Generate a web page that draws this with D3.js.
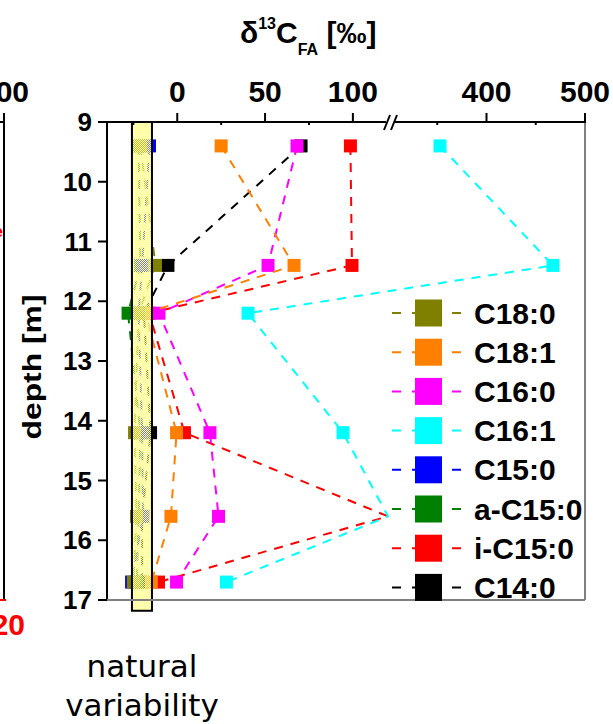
<!DOCTYPE html>
<html lang="en">
<head>
<meta charset="utf-8">
<script src="https://d3js.org/d3.v7.min.js"></script>
<style type="text/css">
body{
  margin: 0;
  padding: 0;
  background: white;
}
svg text{
  font-family: "Liberation Sans", Arial, sans-serif;
  font-weight: bold;
}
.note{
  font-family: "DejaVu Sans", sans-serif !important;
  font-weight: normal !important;
}
</style>
</head>
<body>
<div id="chart"></div>

<script type="text/javascript">

// sample depths [m]
var depths = [9.4, 11.4, 12.2, 14.2, 15.6, 16.7];

// legend order
var seriesNames  = ["C18:0", "C18:1", "C16:0", "C16:1", "C15:0", "a-C15:0", "i-C15:0", "C14:0"];
var seriesColors = ["#808000", "#ff8000", "#ff00ff", "#00ffff", "#0000ff", "#008000", "#ff0000", "#000000"];

// d13C values per depth (200 = off scale, inside the axis break)
var c18_0  = [-21, -12.4, -22, -24.3, -23.2, -25];
var c18_1  = [25, 66.5, -18, -0.4, -3.6, -14.7];
var c16_0  = [68.2, 51.7, -10.4, 18.6, 23.5, -0.4];
var c16_1  = [352.8, 467.5, 40.3, 94.4, 200, 28];
var c15_0  = [-15.8, -20, -22, -20, -19.5, -26];
var ac15_0 = [-22, -21, -28, -21, -22, -23];
var ic15_0 = [98.6, 99.5, -16, 4.1, 200, -10.7];
var c14_0  = [70.5, -5.3, -19, -15.2, -20, -20];

var seriesValues = [c18_0, c18_1, c16_0, c16_1, c15_0, ac15_0, ic15_0, c14_0];

// natural variability band
var natVar = [-25.8, -14.4];
var natVarDepth = [9, 17.18];

// axis ticks
var topTicks = [0, 50, 100, 400, 500];
var topMinor = [-25, 25, 75, 350, 450];
var depthTicks = [9, 10, 11, 12, 13, 14, 15, 16, 17];

var width = 613, height = 724;
var pLeft = 107, pRight = 585, pTop = 122, pBottom = 600;
var breakX = 388;

var svg = d3.select("#chart").append("svg")
  .attr("width", width)
  .attr("height", height);

// broken x axis: -40..120 | 300..500
var x = d3.scaleLinear()
  .domain([-40, 120, 300, 500])
  .range([pLeft, breakX, breakX, pRight]);

var y = d3.scaleLinear()
  .domain([9, 17])
  .range([pTop, pBottom]);

var inGap = function(v){ return v > 120 && v < 300; };

// light yellow mesh, the marks underneath show through
var defs = svg.append("defs");
var pat = defs.append("pattern")
  .attr("id", "mesh")
  .attr("width", 2).attr("height", 2)
  .attr("patternUnits", "userSpaceOnUse");
pat.append("rect").attr("width", 2).attr("height", 2).attr("fill", "#ffff90").attr("fill-opacity", 0.5);
pat.append("rect").attr("width", 1).attr("height", 1).attr("fill", "#ffff80");
pat.append("rect").attr("x", 1).attr("y", 1).attr("width", 1).attr("height", 1).attr("fill", "#ffffa0");

defs.append("clipPath").attr("id", "plotClip")
  .append("rect")
  .attr("x", pLeft).attr("y", pTop)
  .attr("width", pRight - pLeft).attr("height", pBottom - pTop);

// --- partial neighbour panel on the left edge
svg.append("line")
  .attr("x1", 4).attr("x2", 4).attr("y1", pTop - 9).attr("y2", pBottom)
  .attr("stroke", "black").attr("stroke-width", 2);
svg.append("line")
  .attr("x1", 0).attr("x2", 4).attr("y1", pTop).attr("y2", pTop)
  .attr("stroke", "black").attr("stroke-width", 2);
svg.append("line")
  .attr("x1", 0).attr("x2", 6).attr("y1", pBottom).attr("y2", pBottom)
  .attr("stroke", "red").attr("stroke-width", 2);
svg.append("text")
  .attr("x", 4).attr("y", 102)
  .attr("text-anchor", "middle")
  .style("font-size", "30px")
  .text("200");
svg.append("text")
  .attr("x", 25).attr("y", 635)
  .attr("text-anchor", "end")
  .attr("fill", "red")
  .style("font-size", "30px")
  .text("20");
svg.append("text")
  .attr("x", 3).attr("y", 237)
  .attr("text-anchor", "end")
  .attr("fill", "red")
  .style("font-size", "17px")
  .text("e");

// --- series (drawn in reverse legend order)
var line = d3.line()
  .x(function(d){ return x(d.v); })
  .y(function(d){ return y(d.depth); });

var plot = svg.append("g").attr("clip-path", "url(#plotClip)");

for (var s = seriesNames.length - 1; s >= 0; s--) {
  var pts = seriesValues[s].map(function(v, i){ return {v: v, depth: depths[i]}; });
  var g = plot.append("g");
  g.append("path")
    .datum(pts)
    .attr("d", line)
    .attr("fill", "none")
    .attr("stroke", seriesColors[s])
    .attr("stroke-width", 2)
    .attr("stroke-dasharray", "9,8");
  g.selectAll("rect")
    .data(pts.filter(function(d){ return !inGap(d.v); }))
    .enter()
    .append("rect")
    .attr("x", function(d){ return x(d.v) - 6.5; })
    .attr("y", function(d){ return y(d.depth) - 6.5; })
    .attr("width", 13).attr("height", 13)
    .attr("fill", seriesColors[s]);
}

// --- natural variability band
svg.append("rect")
  .attr("x", x(natVar[0]))
  .attr("y", y(natVarDepth[0]))
  .attr("width", x(natVar[1]) - x(natVar[0]))
  .attr("height", y(natVarDepth[1]) - y(natVarDepth[0]))
  .attr("fill", "url(#mesh)")
  .attr("stroke", "black")
  .attr("stroke-width", 2);

// --- frame
svg.append("line")
  .attr("x1", pLeft).attr("x2", pLeft).attr("y1", pTop).attr("y2", pBottom)
  .attr("stroke", "black").attr("stroke-width", 2);
svg.append("line")
  .attr("x1", pRight).attr("x2", pRight).attr("y1", pTop).attr("y2", pBottom)
  .attr("stroke", "#808080").attr("stroke-width", 2);
svg.append("line")
  .attr("x1", pLeft).attr("x2", pRight).attr("y1", pBottom).attr("y2", pBottom)
  .attr("stroke", "#808080").attr("stroke-width", 2);
svg.append("line")
  .attr("x1", pLeft - 1).attr("x2", breakX - 2).attr("y1", pTop).attr("y2", pTop)
  .attr("stroke", "black").attr("stroke-width", 2);
svg.append("line")
  .attr("x1", breakX + 7).attr("x2", pRight + 1).attr("y1", pTop).attr("y2", pTop)
  .attr("stroke", "black").attr("stroke-width", 2);
[breakX - 1, breakX + 6].forEach(function(bx){
  svg.append("line")
    .attr("x1", bx - 3).attr("y1", pTop + 8)
    .attr("x2", bx + 3).attr("y2", pTop - 7)
    .attr("stroke", "black").attr("stroke-width", 2);
});

// top ticks + labels
svg.selectAll(".tmaj")
  .data(topTicks).enter()
  .append("line")
  .attr("x1", function(d){ return x(d); }).attr("x2", function(d){ return x(d); })
  .attr("y1", pTop).attr("y2", pTop - 9)
  .attr("stroke", "black").attr("stroke-width", 2);
svg.selectAll(".tmin")
  .data(topMinor).enter()
  .append("line")
  .attr("x1", function(d){ return x(d); }).attr("x2", function(d){ return x(d); })
  .attr("y1", pTop).attr("y2", pTop + 3)
  .attr("stroke", "black").attr("stroke-width", 2);
svg.selectAll(".tlab")
  .data(topTicks).enter()
  .append("text")
  .attr("x", function(d){ return x(d); })
  .attr("y", 102)
  .attr("text-anchor", "middle")
  .style("font-size", "30px")
  .text(function(d){ return d; });

// depth ticks + labels
svg.selectAll(".ytick")
  .data(depthTicks).enter()
  .append("line")
  .attr("x1", pLeft - 9).attr("x2", pLeft)
  .attr("y1", function(d){ return y(d); }).attr("y2", function(d){ return y(d); })
  .attr("stroke", "black").attr("stroke-width", 2);
svg.selectAll(".ylab")
  .data(depthTicks).enter()
  .append("text")
  .attr("x", 92)
  .attr("y", function(d){ return y(d) + 9; })
  .attr("text-anchor", "end")
  .style("font-size", "26px")
  .text(function(d){ return d; });

// axis titles
var title = svg.append("text")
  .attr("x", 240).attr("y", 43)
  .style("font-size", "30px");
title.append("tspan").text("δ");
title.append("tspan").attr("dy", -14).style("font-size", "16px").text("13");
title.append("tspan").attr("dy", 14).text("C");
title.append("tspan").attr("dy", 12).style("font-size", "16px").text("FA");
title.append("tspan").attr("dy", -12).text(" [‰]");

svg.append("text")
  .attr("transform", "translate(41,367) rotate(-90)")
  .attr("text-anchor", "middle")
  .attr("textLength", 145)
  .attr("lengthAdjust", "spacingAndGlyphs")
  .style("font-size", "25px")
  .text("depth [m]");

// --- legend
var legend = svg.append("g");
seriesNames.forEach(function(name, i){
  var cy = 313 + i * 39.2;
  legend.append("line")
    .attr("x1", 392).attr("x2", 462)
    .attr("y1", cy).attr("y2", cy)
    .attr("stroke", seriesColors[i]).attr("stroke-width", 2)
    .attr("stroke-dasharray", "9,11");
  legend.append("rect")
    .attr("x", 415).attr("y", cy - 13.5)
    .attr("width", 27).attr("height", 27)
    .attr("fill", seriesColors[i]);
  legend.append("text")
    .attr("x", 474).attr("y", cy + 10.5)
    .style("font-size", "30px")
    .text(name);
});

// --- note under the band
svg.append("text").attr("class", "note")
  .attr("x", 142).attr("y", 677)
  .attr("text-anchor", "middle")
  .style("font-size", "31px")
  .text("natural");
svg.append("text").attr("class", "note")
  .attr("x", 142).attr("y", 716)
  .attr("text-anchor", "middle")
  .style("font-size", "31px")
  .text("variability");

</script>
</body>
</html>
